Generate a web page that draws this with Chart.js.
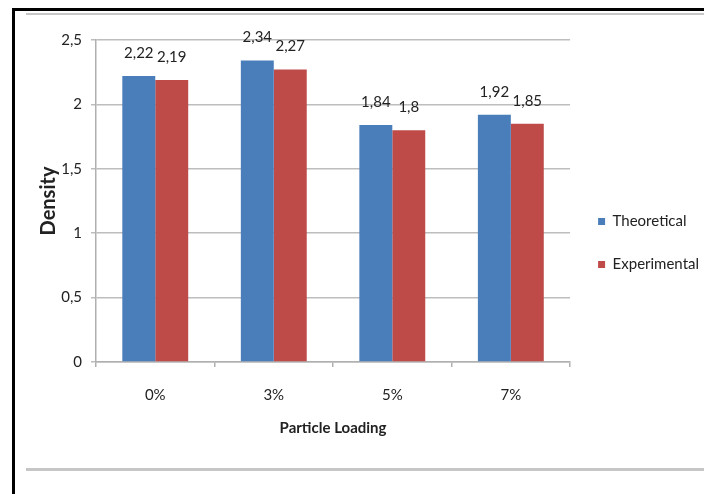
<!DOCTYPE html>
<html><head><meta charset="utf-8">
<script src="https://cdn.jsdelivr.net/npm/chart.js@4"></script>
<style>
html,body{margin:0;padding:0;background:#fff;}
#wrap{position:relative;width:704px;height:494px;overflow:hidden;}
#c{position:absolute;left:0;top:0;}
.ln{position:absolute;}
</style>
</head><body>
<div id="wrap">
<canvas id="c" width="704" height="494"></canvas>
<div class="ln" style="left:12px;top:8px;width:692px;height:3px;background:#000"></div>
<div class="ln" style="left:12px;top:8px;width:3px;height:486px;background:#000"></div>
<div class="ln" style="left:26px;top:13px;width:678px;height:2px;background:#c6c6c6"></div>
<div class="ln" style="left:26px;top:468px;width:678px;height:3px;background:#c6c6c6"></div>
</div>
<script>
const categories = ['0%', '3%', '5%', '7%'];
const theoretical = [2.22, 2.34, 1.84, 1.92];
const experimental = [2.19, 2.27, 1.8, 1.85];
const seriesNames = ['Theoretical', 'Experimental'];
const yMin = 0, yMax = 2.5, yStep = 0.5;

const FONT = 'Lato, "Open Sans", sans-serif';
const fmt = v => String(Math.round(v * 100) / 100).replace('.', ',');

const valueLabels = {
  id: 'valueLabels',
  afterDatasetsDraw(chart) {
    const ctx = chart.ctx;
    ctx.save();
    ctx.font = '15px ' + FONT;
    ctx.fillStyle = '#222';
    ctx.textAlign = 'center';
    ctx.textBaseline = 'middle';
    chart.data.datasets.forEach((ds, di) => {
      const meta = chart.getDatasetMeta(di);
      meta.data.forEach((bar, i) => {
        ctx.fillText(fmt(ds.data[i]), bar.x, bar.y - 23);
      });
    });
    ctx.restore();
  }
};

new Chart(document.getElementById('c'), {
  type: 'bar',
  data: {
    labels: categories,
    datasets: [
      { label: seriesNames[0], data: theoretical, backgroundColor: '#4A7EBB', borderWidth: 0 },
      { label: seriesNames[1], data: experimental, backgroundColor: '#BE4B48', borderWidth: 0 }
    ]
  },
  options: {
    responsive: false,
    animation: false,
    devicePixelRatio: 1,
    layout: { padding: { top: 40, bottom: 48, left: 0, right: -5 } },
    datasets: { bar: { categoryPercentage: 0.556, barPercentage: 1 } },
    plugins: {
      tooltip: { enabled: false },
      legend: {
        position: 'right',
        labels: {
          boxWidth: 7, boxHeight: 7, padding: 28,
          font: { family: FONT, size: 15 }, color: '#222'
        }
      }
    },
    scales: {
      x: {
        grid: { offset: true, drawOnChartArea: false, drawTicks: true, tickLength: 5, color: '#b0b0b0', lineWidth: 1.5 },
        border: { color: '#b0b0b0', width: 1.5 },
        ticks: { font: { family: FONT, size: 15 }, color: '#222', padding: 19 },
        title: { display: true, text: 'Particle Loading', font: { family: FONT, size: 15, weight: 'bold' }, color: '#222', padding: { top: 0, bottom: 9 } },
        afterFit: s => { s.height = 84; }
      },
      y: {
        min: yMin, max: yMax,
        ticks: { stepSize: yStep, font: { family: FONT, size: 15 }, color: '#222', padding: 9, callback: v => fmt(v) },
        grid: { color: '#bdbdbd', lineWidth: 1.5, tickLength: 5 },
        border: { color: '#b0b0b0', width: 1.5 },
        title: { display: true, text: 'Density', font: { family: FONT, size: 20, weight: 'bold' }, color: '#222', padding: { top: 37, bottom: 0 } },
        afterFit: s => { s.width = 96; }
      }
    }
  },
  plugins: [valueLabels]
});
</script>
</body></html>
